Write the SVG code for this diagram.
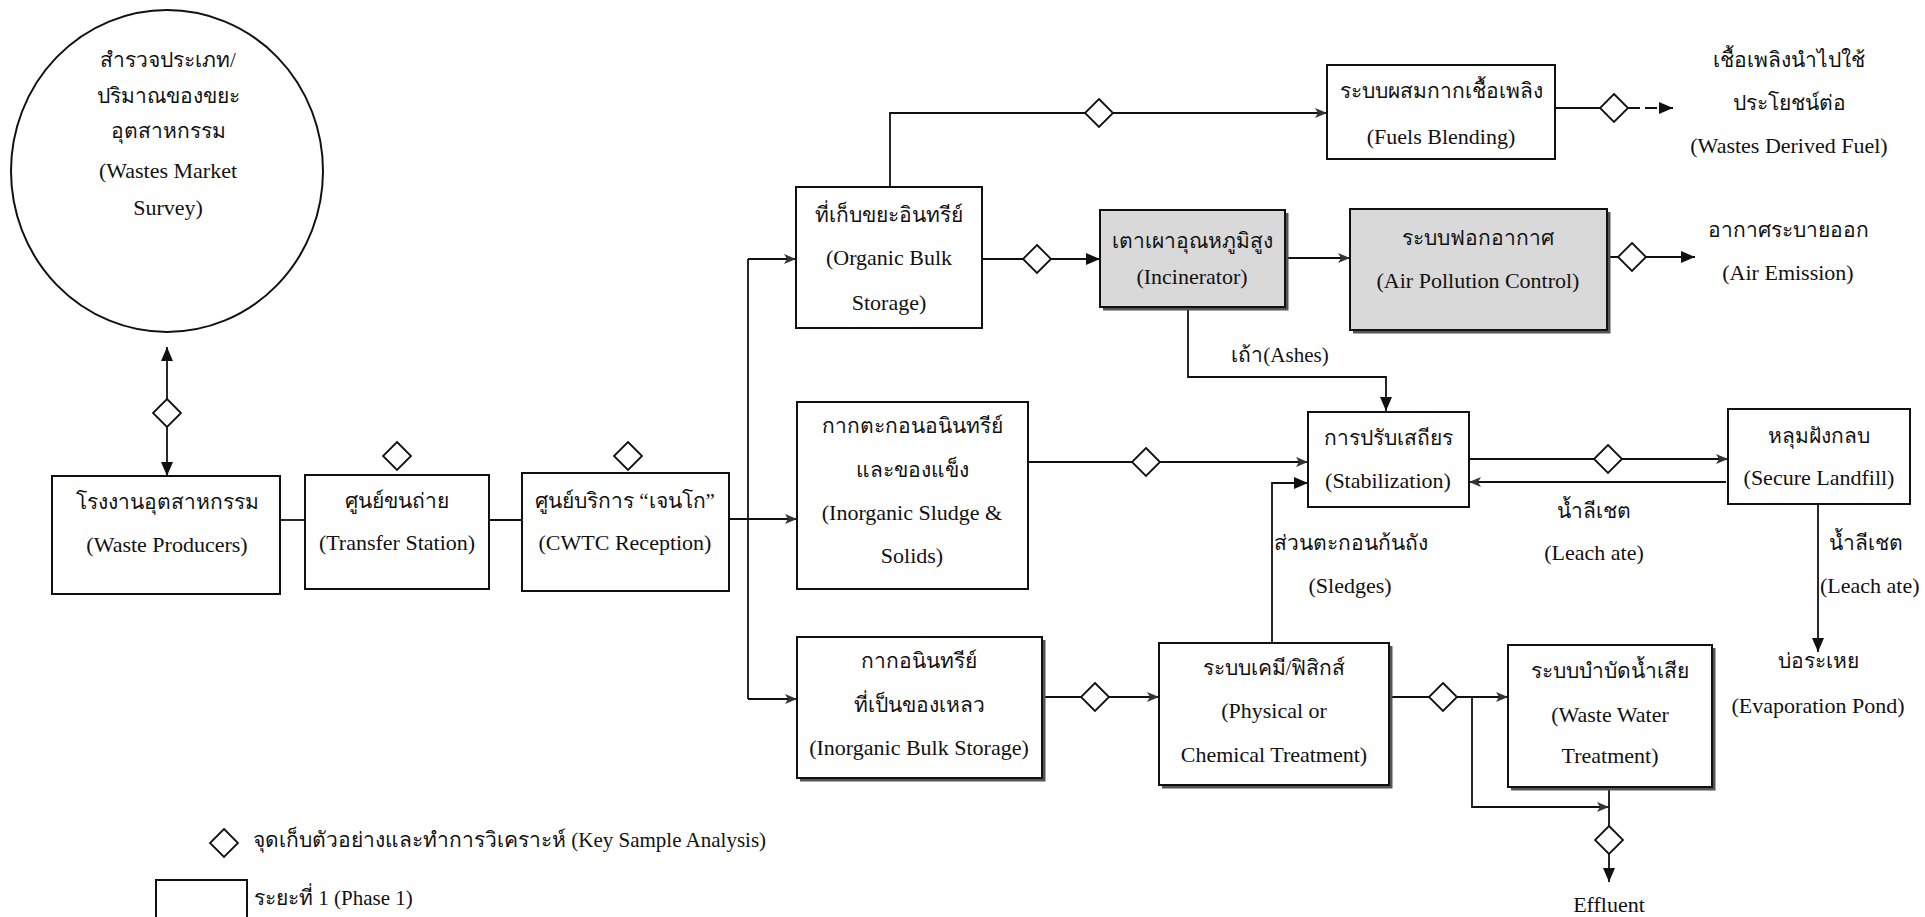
<svg xmlns="http://www.w3.org/2000/svg" width="1925" height="917" viewBox="0 0 1925 917">
<style>
  .bx{fill:#fff;stroke:#111;stroke-width:2}
  .gr{fill:#d9d9d9;stroke:#111;stroke-width:2}
  .sh{fill:none;stroke:#555;stroke-width:3}
  .ln{fill:none;stroke:#111;stroke-width:1.8}
  .dm{fill:#fff;stroke:#111;stroke-width:1.8}
  text{font-family:"Liberation Serif","DejaVu Serif",serif;font-size:22px;fill:#111;text-anchor:middle}
  .th{font-size:21px}
  .l{text-anchor:start}
</style>
<defs>
  <marker id="ah" viewBox="0 0 14 12" refX="14" refY="6" markerWidth="14" markerHeight="12" markerUnits="userSpaceOnUse" orient="auto-start-reverse">
    <path d="M0,0 L14,6 L0,12 z" fill="#111"/>
  </marker>
  <marker id="as" viewBox="0 0 12 10" refX="12" refY="5" markerWidth="12" markerHeight="10" markerUnits="userSpaceOnUse" orient="auto">
    <path d="M0,0 L12,5 L0,10 L3,5 z" fill="#333"/>
  </marker>
  <path id="dia" d="M0,-14 L14,0 L0,14 L-14,0 z"/>
</defs>

<g id="connectors">
  <line class="ln" x1="167" y1="347" x2="167" y2="476" marker-start="url(#ah)" marker-end="url(#ah)"/>
  <line class="ln" x1="280" y1="520" x2="305" y2="520"/>
  <line class="ln" x1="489" y1="520" x2="522" y2="520"/>
  <line class="ln" x1="729" y1="519" x2="797" y2="519" marker-end="url(#as)"/>
  <line class="ln" x1="748" y1="259" x2="748" y2="699"/>
  <line class="ln" x1="748" y1="259" x2="796" y2="259" marker-end="url(#as)"/>
  <line class="ln" x1="748" y1="699" x2="797" y2="699" marker-end="url(#as)"/>
  <path class="ln" d="M890,187 V113 H1327" marker-end="url(#as)"/>
  <line class="ln" x1="982" y1="259" x2="1100" y2="259" marker-end="url(#ah)"/>
  <line class="ln" x1="1285" y1="258" x2="1350" y2="258" marker-end="url(#as)"/>
  <line class="ln" x1="1607" y1="257" x2="1695" y2="257" marker-end="url(#ah)"/>
  <line class="ln" x1="1555" y1="108" x2="1614" y2="108"/>
  <line class="ln" x1="1628" y1="108" x2="1673" y2="108" stroke-dasharray="12,5" marker-end="url(#ah)"/>
  <path class="ln" d="M1188,307 V377 H1386 V411" marker-end="url(#ah)"/>
  <line class="ln" x1="1028" y1="462" x2="1308" y2="462" marker-end="url(#as)"/>
  <path class="ln" d="M1272,643 V483 H1308" marker-end="url(#ah)"/>
  <line class="ln" x1="1469" y1="459" x2="1728" y2="459" marker-end="url(#as)"/>
  <line class="ln" x1="1726" y1="482" x2="1469" y2="482" marker-end="url(#as)"/>
  <line class="ln" x1="1818" y1="504" x2="1818" y2="652" marker-end="url(#ah)"/>
  <line class="ln" x1="1042" y1="697" x2="1159" y2="697" marker-end="url(#as)"/>
  <line class="ln" x1="1389" y1="697" x2="1508" y2="697" marker-end="url(#as)"/>
  <path class="ln" d="M1472,697 V807 H1609" marker-end="url(#as)"/>
  <line class="ln" x1="1609" y1="787" x2="1609" y2="882" marker-end="url(#ah)"/>
  <use href="#dia" class="dm" x="167" y="413"/>
  <use href="#dia" class="dm" x="1099" y="113"/>
  <use href="#dia" class="dm" x="1037" y="259"/>
  <use href="#dia" class="dm" x="1632" y="257"/>
  <use href="#dia" class="dm" x="1614" y="108"/>
  <use href="#dia" class="dm" x="1146" y="462"/>
  <use href="#dia" class="dm" x="1608" y="459"/>
  <use href="#dia" class="dm" x="1095" y="697"/>
  <use href="#dia" class="dm" x="1443" y="697"/>
  <use href="#dia" class="dm" x="1609" y="840"/>
</g>

<g id="survey">
  <ellipse cx="167" cy="171" rx="156" ry="161" fill="#fff" stroke="#111" stroke-width="2"/>
  <text x="168" y="67" class="th">สำรวจประเภท/</text>
  <text x="168" y="103" class="th">ปริมาณของขยะ</text>
  <text x="168" y="138" class="th">อุตสาหกรรม</text>
  <text x="168" y="178">(Wastes Market</text>
  <text x="168" y="215">Survey)</text>
</g>

<g id="waste-producers">
  <rect class="bx" x="52" y="476" width="228" height="118"/>
  <text x="167" y="509" class="th">โรงงานอุตสาหกรรม</text>
  <text x="167" y="552">(Waste Producers)</text>
</g>

<g id="transfer-station">
  <use href="#dia" class="dm" x="397" y="456"/>
  <rect class="bx" x="305" y="475" width="184" height="114"/>
  <text x="397" y="508" class="th">ศูนย์ขนถ่าย</text>
  <text x="397" y="550">(Transfer Station)</text>
</g>

<g id="cwtc">
  <use href="#dia" class="dm" x="628" y="456"/>
  <rect class="bx" x="522" y="473" width="207" height="118"/>
  <text x="625" y="508" class="th">ศูนย์บริการ “เจนโก”</text>
  <text x="625" y="550">(CWTC Reception)</text>
</g>

<g id="organic">
  <rect class="bx" x="796" y="187" width="186" height="141"/>
  <text x="889" y="222" class="th">ที่เก็บขยะอินทรีย์</text>
  <text x="889" y="265">(Organic Bulk</text>
  <text x="889" y="310">Storage)</text>
</g>

<g id="sludge">
  <rect class="bx" x="797" y="402" width="231" height="187"/>
  <text x="912" y="433" class="th">กากตะกอนอนินทรีย์</text>
  <text x="912" y="477" class="th">และของแข็ง</text>
  <text x="912" y="520">(Inorganic Sludge &amp;</text>
  <text x="912" y="563">Solids)</text>
</g>

<g id="inorganic-bulk">
  <path class="sh" d="M1044,640 V780 H800"/>
  <rect class="bx" x="797" y="637" width="245" height="141"/>
  <text x="919" y="668" class="th">กากอนินทรีย์</text>
  <text x="919" y="712" class="th">ที่เป็นของเหลว</text>
  <text x="919" y="755">(Inorganic Bulk Storage)</text>
</g>

<g id="fuels-blending">
  <rect class="bx" x="1327" y="65" width="228" height="94"/>
  <text x="1441" y="98" class="th">ระบบผสมกากเชื้อเพลิง</text>
  <text x="1441" y="144">(Fuels Blending)</text>
</g>

<g id="wdf">
  <text x="1789" y="67" class="th">เชื้อเพลิงนำไปใช้</text>
  <text x="1789" y="110" class="th">ประโยชน์ต่อ</text>
  <text x="1789" y="153">(Wastes Derived Fuel)</text>
</g>

<g id="incinerator">
  <path class="sh" d="M1287,213 V309 H1103"/>
  <rect class="gr" x="1100" y="210" width="185" height="97"/>
  <text x="1192" y="248" class="th">เตาเผาอุณหภูมิสูง</text>
  <text x="1192" y="284">(Incinerator)</text>
</g>

<g id="apc">
  <path class="sh" d="M1609,212 V332 H1353"/>
  <rect class="gr" x="1350" y="209" width="257" height="121"/>
  <text x="1478" y="245" class="th">ระบบฟอกอากาศ</text>
  <text x="1478" y="288">(Air Pollution Control)</text>
</g>

<g id="air-emission">
  <text x="1788" y="237" class="th">อากาศระบายออก</text>
  <text x="1788" y="280">(Air Emission)</text>
</g>

<g id="ashes-label">
  <text x="1280" y="362" class="th">เถ้า(Ashes)</text>
</g>

<g id="stabilization">
  <rect class="bx" x="1308" y="412" width="161" height="95"/>
  <text x="1388" y="445" class="th">การปรับเสถียร</text>
  <text x="1388" y="488">(Stabilization)</text>
</g>

<g id="sledges-label">
  <text x="1274" y="550" class="th l">ส่วนตะกอนก้นถัง</text>
  <text x="1350" y="593">(Sledges)</text>
</g>

<g id="leachate-label">
  <text x="1594" y="518" class="th">น้ำลีเชต</text>
  <text x="1594" y="560">(Leach ate)</text>
</g>

<g id="landfill">
  <rect class="bx" x="1728" y="409" width="182" height="95"/>
  <text x="1819" y="443" class="th">หลุมฝังกลบ</text>
  <text x="1819" y="485">(Secure Landfill)</text>
</g>

<g id="leachate-label-2">
  <text x="1866" y="550" class="th">น้ำลีเชต</text>
  <text x="1820" y="593" class="l">(Leach ate)</text>
</g>

<g id="evaporation-pond">
  <text x="1818" y="668" class="th">บ่อระเหย</text>
  <text x="1818" y="713">(Evaporation Pond)</text>
</g>

<g id="physical-chemical">
  <path class="sh" d="M1391,646 V787 H1162"/>
  <rect class="bx" x="1159" y="643" width="230" height="142"/>
  <text x="1274" y="675" class="th">ระบบเคมี/ฟิสิกส์</text>
  <text x="1274" y="718">(Physical or</text>
  <text x="1274" y="762">Chemical Treatment)</text>
</g>

<g id="wastewater">
  <path class="sh" d="M1714,648 V789 H1511"/>
  <rect class="bx" x="1508" y="645" width="204" height="142"/>
  <text x="1610" y="678" class="th">ระบบบำบัดน้ำเสีย</text>
  <text x="1610" y="722">(Waste Water</text>
  <text x="1610" y="763">Treatment)</text>
</g>

<g id="effluent">
  <text x="1609" y="912">Effluent</text>
</g>

<g id="legend">
  <use href="#dia" class="dm" x="224" y="843"/>
  <text x="253" y="847" class="th l">จุดเก็บตัวอย่างและทำการวิเคราะห์ (Key Sample Analysis)</text>
  <rect class="bx" x="156" y="880" width="91" height="45"/>
  <text x="254" y="905" class="th l">ระยะที่ 1 (Phase 1)</text>
</g>
</svg>
